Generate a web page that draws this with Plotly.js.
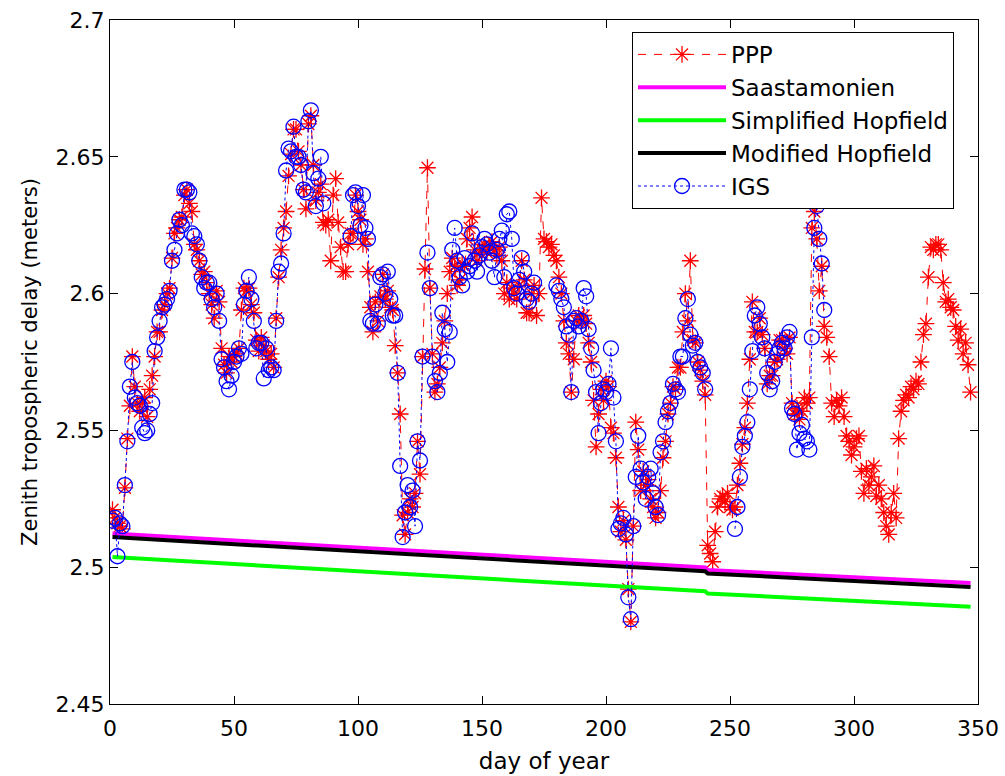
<!DOCTYPE html>
<html>
<head>
<meta charset="utf-8">
<script src="https://cdn.plot.ly/plotly-3.0.1.min.js"></script>
<style>html,body{margin:0;padding:0;background:#fff;}#chart{width:1005px;height:776px;}</style>
</head>
<body>
<div id="chart"></div>
<script>
// PPP zenith tropospheric delay (m), day 1 .. 347
const pppDelay = [
2.521,2.518,2.516,2.515,2.514,2.529,2.547,2.559,2.577,2.566,
2.560,2.557,2.560,2.562,2.555,2.565,2.570,2.577,2.586,2.586,
2.594,2.596,2.600,2.602,2.613,2.622,2.624,2.627,2.628,2.636,
2.638,2.633,2.630,2.618,2.616,2.612,2.607,2.608,2.604,2.600,
2.596,2.591,2.601,2.597,2.580,2.574,2.571,2.577,2.575,2.577,
2.578,2.580,2.594,2.602,2.601,2.602,2.596,2.593,2.583,2.579,
2.584,2.581,2.579,2.576,2.578,2.573,2.591,2.606,2.616,2.624,
2.630,2.643,2.651,2.660,2.660,2.652,2.647,2.638,2.631,2.662,
2.665,2.647,2.634,2.637,2.640,2.626,2.625,2.627,2.612,2.636,
2.642,2.626,2.617,2.608,2.608,2.618,2.622,2.622,2.636,2.630,
2.627,2.618,2.620,2.608,2.595,2.586,2.597,2.590,2.599,2.607,
2.598,2.601,2.595,2.594,2.581,2.571,2.556,2.519,2.512,2.520,
2.525,2.522,2.527,2.546,2.534,2.577,2.609,2.646,2.602,2.578,
2.564,2.567,2.573,2.582,2.590,2.600,2.608,2.613,2.610,2.603,
2.605,2.611,2.610,2.620,2.624,2.628,2.616,2.612,2.615,2.616,
2.618,2.615,2.617,2.619,2.616,2.614,2.617,2.612,2.600,2.604,
2.598,2.602,2.600,2.598,2.603,2.612,2.605,2.593,2.593,2.600,
2.603,2.592,2.600,2.635,2.620,2.619,2.617,2.618,2.614,2.612,
2.606,2.600,2.590,2.582,2.578,2.564,2.576,2.590,2.592,2.590,
2.592,2.589,2.582,2.575,2.561,2.544,2.556,2.565,2.561,2.568,
2.566,2.551,2.549,2.540,2.522,2.513,2.517,2.510,2.492,2.480,
2.515,2.553,2.543,2.528,2.535,2.530,2.532,2.525,2.522,2.518,
2.520,2.528,2.540,2.546,2.556,2.560,2.566,2.565,2.573,2.573,
2.586,2.600,2.590,2.612,2.583,2.582,2.575,2.572,2.568,2.563,
2.508,2.505,2.502,2.513,2.522,2.525,2.526,2.524,2.527,2.522,
2.521,2.522,2.530,2.538,2.545,2.551,2.560,2.576,2.597,2.586,
2.586,2.591,2.585,2.580,2.567,2.570,2.570,2.575,2.576,2.583,
2.583,2.580,2.578,2.584,2.560,2.556,2.558,2.554,2.557,2.562,
2.560,2.562,2.624,2.630,2.620,2.601,2.610,2.588,2.584,2.577,
2.560,2.555,2.561,2.559,2.562,2.555,2.548,2.546,2.541,2.544,
2.547,2.548,2.535,2.527,2.536,2.530,2.533,2.537,2.526,2.530,
2.525,2.520,2.515,2.512,2.520,2.527,2.518,2.547,2.557,2.561,
2.563,2.562,2.566,2.565,2.568,2.567,2.575,2.585,2.589,2.606,
2.617,2.616,2.618,2.618,2.616,2.604,2.597,2.598,2.595,2.594,
2.588,2.583,2.587,2.578,2.582,2.574,2.564
];

// IGS zenith tropospheric delay (m), day 1 .. 288 (null = no value)
const igsDelay = [
2.517,2.518,2.504,2.516,2.515,2.530,2.546,2.566,2.575,2.562,
2.560,2.559,2.551,2.549,2.550,2.556,2.560,2.579,2.584,2.590,
2.595,2.596,2.598,2.601,2.612,2.616,2.622,2.627,2.625,2.638,
2.638,2.637,2.622,2.621,2.618,2.612,2.606,2.602,2.604,2.604,
2.598,2.595,2.600,2.590,2.576,2.573,2.568,2.565,2.570,2.575,
2.577,2.580,2.578,2.596,2.601,2.606,2.598,2.590,2.580,2.582,
2.582,2.569,2.580,2.572,2.573,2.572,2.590,2.608,2.611,2.622,
2.645,2.653,2.652,2.661,2.650,2.650,2.647,2.638,2.637,2.663,
2.667,2.644,2.632,2.642,2.650,2.633,null,null,null,null,
null,null,null,null,null,null,2.621,2.636,2.637,2.632,
2.625,2.636,2.624,2.620,2.590,2.589,2.596,2.589,2.606,2.607,
2.600,2.608,2.598,2.592,2.592,2.571,2.537,2.511,2.520,2.530,
2.522,2.528,2.515,2.546,2.539,2.577,null,2.615,2.602,2.577,
2.568,2.564,2.571,2.593,2.587,2.575,2.586,2.616,2.624,2.612,
2.606,2.603,2.613,2.608,2.610,2.622,2.612,2.608,2.614,2.617,
2.620,2.618,2.615,2.612,2.606,2.616,2.620,2.623,2.606,2.629,
2.630,2.620,2.602,2.600,2.605,2.613,2.608,2.598,2.597,2.600,
2.604,null,null,null,null,null,null,null,null,2.603,
2.601,2.598,2.595,2.588,2.585,2.564,2.590,2.591,2.588,2.590,
2.602,2.599,2.587,2.580,2.572,2.564,2.549,2.560,2.565,2.564,
2.567,2.580,2.562,2.546,2.514,2.516,2.518,2.512,2.489,2.481,
2.515,2.533,2.548,2.536,2.531,2.525,2.533,2.536,2.527,2.522,
2.519,2.542,2.546,2.553,2.557,2.560,2.567,2.565,2.564,2.577,
2.577,2.591,2.598,2.585,2.581,2.582,2.575,2.573,2.571,2.565,
null,null,null,null,null,null,null,null,null,null,
null,2.514,2.522,2.533,2.544,2.548,2.553,2.565,2.579,2.592,
2.595,2.589,2.584,2.580,2.571,2.565,2.568,2.575,2.578,2.580,
2.582,2.580,2.584,2.586,2.558,2.556,2.543,2.549,2.552,2.547,
2.546,2.543,2.584,2.624,2.632,2.620,2.611,2.594
];

// Model delays read at the start, around the day-241 step, and at the end
const modelDays = [1, 240, 241, 347];
const saastamoinen = [2.5123, 2.4999, 2.4990, 2.4942];
const simplifiedHopfield = [2.5037, 2.4912, 2.4904, 2.4855];
const modifiedHopfield = [2.5110, 2.4985, 2.4977, 2.4928];

const xTicks = [0, 50, 100, 150, 200, 250, 300, 350];
const yTicks = [2.45, 2.5, 2.55, 2.6, 2.65, 2.7];
const yTickText = ['2.45', '2.5', '2.55', '2.6', '2.65', '2.7'];

const pppDays = pppDelay.map((_, i) => i + 1);
const igsDays = igsDelay.map((_, i) => i + 1);

const FONT = '"DejaVu Sans", "Liberation Sans", Arial, sans-serif';

const traces = [
  {x: pppDays, y: pppDelay, name: 'PPP', type: 'scatter', mode: 'lines+markers',
   line: {color: '#ff0000', width: 1, dash: '8px,8px'},
   marker: {symbol: 'asterisk-open', size: 14, color: '#ff0000', line: {color: '#ff0000', width: 1.3}}},
  {x: modelDays, y: saastamoinen, name: 'Saastamonien', type: 'scatter', mode: 'lines',
   line: {color: '#ff00ff', width: 4}},
  {x: modelDays, y: simplifiedHopfield, name: 'Simplified Hopfield', type: 'scatter', mode: 'lines',
   line: {color: '#00ff00', width: 4}},
  {x: modelDays, y: modifiedHopfield, name: 'Modified Hopfield', type: 'scatter', mode: 'lines',
   line: {color: '#000000', width: 4}},
  {x: igsDays, y: igsDelay, name: 'IGS', type: 'scatter', mode: 'lines+markers',
   line: {color: '#0000ff', width: 1, dash: 'dot'},
   marker: {symbol: 'circle-open', size: 15, color: '#0000ff', line: {color: '#0000ff', width: 1.3}}}
];

const layout = {
  width: 1005, height: 776,
  margin: {l: 110, r: 27, t: 20, b: 72},
  paper_bgcolor: '#ffffff', plot_bgcolor: '#ffffff',
  font: {family: FONT, size: 22, color: '#000000'},
  showlegend: true,
  legend: {
    x: 0.6014, y: 0.9825, xanchor: 'left', yanchor: 'top',
    bgcolor: '#ffffff', bordercolor: '#000000', borderwidth: 1,
    font: {family: FONT, size: 23, color: '#000000'},
    itemwidth: 88, tracegroupgap: 0
  },
  xaxis: {
    range: [0, 350], tickvals: xTicks, ticks: 'inside', ticklen: 8, tickcolor: '#000',
    showline: true, linecolor: '#000', linewidth: 1, mirror: 'ticks',
    showgrid: false, zeroline: false, ticklabelstandoff: 5,
    tickfont: {family: FONT, size: 22},
    title: {text: 'day of year', font: {family: FONT, size: 23}, standoff: 12}
  },
  yaxis: {
    range: [2.45, 2.7], tickvals: yTicks, ticktext: yTickText, ticks: 'inside', ticklen: 8, tickcolor: '#000',
    showline: true, linecolor: '#000', linewidth: 1, mirror: 'ticks',
    showgrid: false, zeroline: false,
    tickfont: {family: FONT, size: 22},
    title: {text: 'Zenith tropospheric delay (meters)', font: {family: FONT, size: 21}, standoff: 12}
  }
};

Plotly.newPlot('chart', traces, layout, {displayModeBar: false, staticPlot: true});
</script>
</body>
</html>
